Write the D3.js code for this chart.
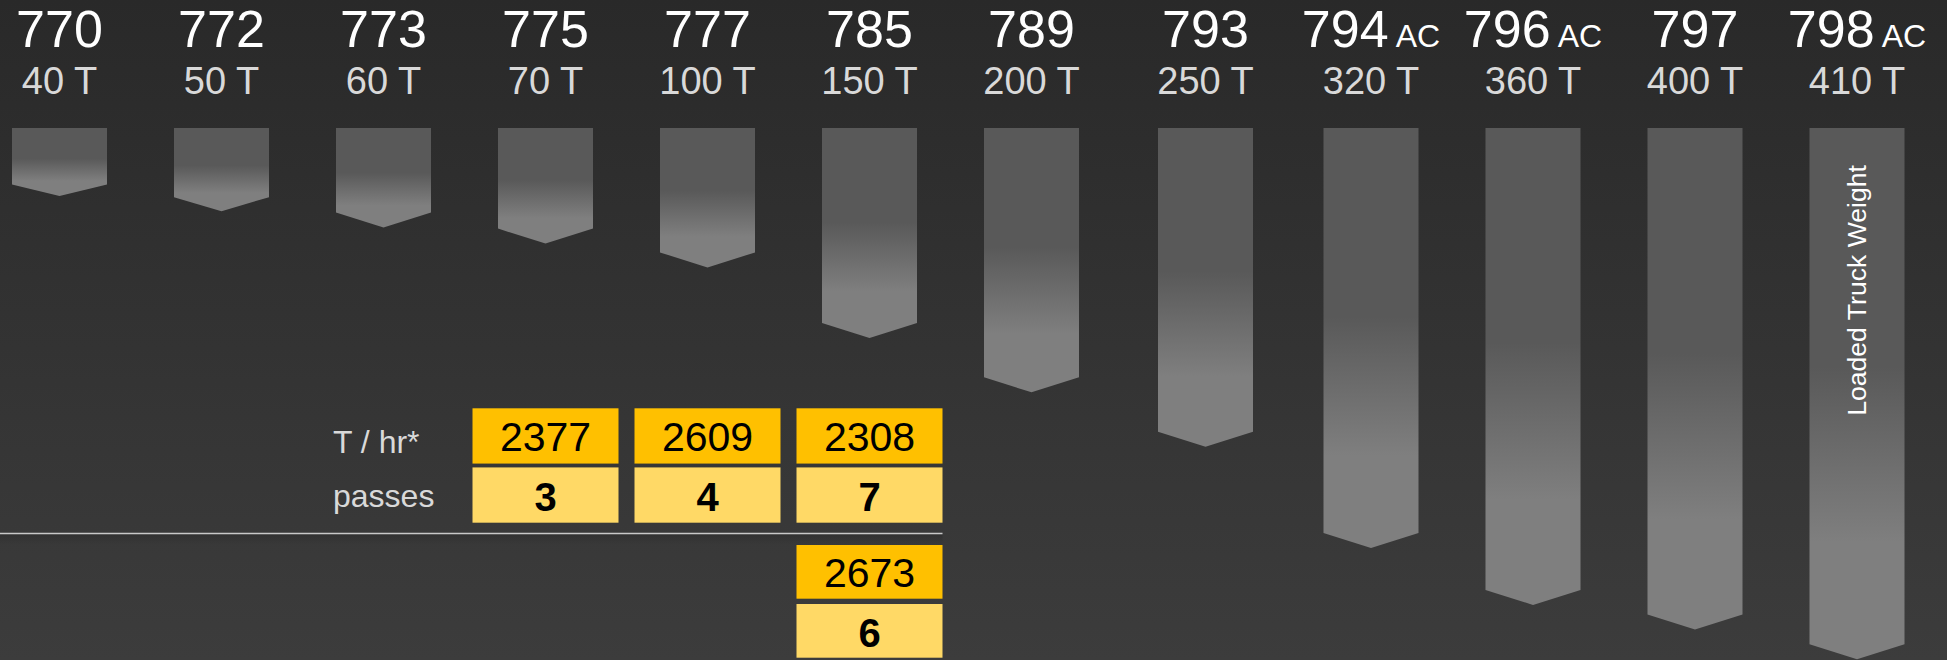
<!DOCTYPE html>
<meta charset="utf-8">

<style type="text/css">
  body {
    margin: 0;
    background: #2a2a2a;
    overflow: hidden;
  }

  svg {
    display: block;
    font-family: "Liberation Sans", Arial, sans-serif;
  }

  .model {
    fill: #fff;
    font-size: 52px;
  }

  .model tspan {
    font-size: 32px;
  }

  .payload {
    fill: #d9d9d9;
    font-size: 38px;
  }

  .rowlabel {
    fill: #d9d9d9;
    font-size: 32px;
  }

  .tph {
    fill: #000;
    font-size: 41px;
  }

  .passes {
    fill: #000;
    font-size: 40px;
    font-weight: bold;
  }
</style>

<body>
  <script src="https://d3js.org/d3.v7.min.js"></script>

  <script>
    // trucks
    var models = ["770", "772", "773", "775", "777", "785", "789", "793", "794", "796", "797", "798"];
    var suffix = ["", "", "", "", "", "", "", "", "AC", "AC", "", "AC"];
    var payload = [40, 50, 60, 70, 100, 150, 200, 250, 320, 360, 400, 410];
    var loadedWeight = [80, 98, 117, 136, 164, 247, 311, 375, 494, 561, 590, 625];

    // loading table (upper block and lower block)
    var rowLabels = ["T / hr*", "passes"];
    var upperTrucks = ["775", "777", "785"];
    var upperTph = [2377, 2609, 2308];
    var upperPasses = [3, 4, 7];
    var lowerTrucks = ["785"];
    var lowerTph = [2673];
    var lowerPasses = [6];

    var w = 1947;
    var h = 660;

    var svg = d3.select('body')
      .append('svg')
      .attr('width', w)
      .attr('height', h);

    var defs = svg.append('defs');

    var bg = defs.append('linearGradient')
      .attr('id', 'bg')
      .attr('x1', 0).attr('y1', 0).attr('x2', 0).attr('y2', 1);
    bg.append('stop').attr('offset', 0).attr('stop-color', '#292929');
    bg.append('stop').attr('offset', 1).attr('stop-color', '#3c3c3c');

    var barGrad = defs.append('linearGradient')
      .attr('id', 'barGrad')
      .attr('x1', 0).attr('y1', 0).attr('x2', 0).attr('y2', 1);
    [[0, '#595959'], [0.45, '#595959'], [0.78, '#7f7f7f'], [1, '#7f7f7f']].forEach(function(s) {
      barGrad.append('stop').attr('offset', s[0]).attr('stop-color', s[1]);
    });

    var shade = defs.append('linearGradient')
      .attr('id', 'shade')
      .attr('x1', 0).attr('y1', 0).attr('x2', 0).attr('y2', 1);
    shade.append('stop').attr('offset', 0).attr('stop-color', '#000').attr('stop-opacity', 0.14);
    shade.append('stop').attr('offset', 1).attr('stop-color', '#000').attr('stop-opacity', 0);

    svg.append('rect')
      .attr('width', w)
      .attr('height', h)
      .attr('fill', 'url(#bg)');

    var x = d3.scaleBand()
      .domain(models)
      .range([-21.5, 1922.5])
      .paddingInner(67 / 162)
      .paddingOuter(67 / 324);
    var bw = x.bandwidth();

    // the AC trucks have wider labels, so the right group sits a bit further over
    function bx(m) {
      var i = models.indexOf(m);
      return x(m) + (i > 7 ? 15.5 : i == 7 ? 12 : 0);
    }

    var y = d3.scaleLinear()
      .domain([0, 625])
      .range([128, 659.3]);

    var trucks = models.map(function(m, i) {
      return { model: m, suffix: suffix[i], payload: payload[i], weight: loadedWeight[i] };
    });

    // bars with an arrow tip
    svg.selectAll('path.bar')
      .data(trucks)
      .enter()
      .append('path')
      .attr('class', 'bar')
      .attr('fill', 'url(#barGrad)')
      .attr('d', function(d) {
        var l = bx(d.model), r = l + bw, c = l + bw / 2;
        var top = y(0), end = y(d.weight);
        var tip = Math.min(15, (end - top) * 0.17);
        return 'M' + l + ',' + top + 'H' + r + 'V' + (end - tip) +
          'L' + c + ',' + end + 'L' + l + ',' + (end - tip) + 'Z';
      });

    // model names
    var names = svg.selectAll('text.model')
      .data(trucks)
      .enter()
      .append('text')
      .attr('class', 'model')
      .attr('text-anchor', 'middle')
      .attr('x', function(d) { return bx(d.model) + bw / 2; })
      .attr('y', 46.7)
      .text(function(d) { return d.model; });

    names.filter(function(d) { return d.suffix; })
      .append('tspan')
      .text(function(d) { return ' ' + d.suffix; });

    svg.selectAll('text.payload')
      .data(trucks)
      .enter()
      .append('text')
      .attr('class', 'payload')
      .attr('text-anchor', 'middle')
      .attr('x', function(d) { return bx(d.model) + bw / 2; })
      .attr('y', 94.3)
      .text(function(d) { return d.payload + ' T'; });

    var last = models[models.length - 1];
    svg.append('text')
      .attr('transform', 'translate(' + (bx(last) + bw / 2 + 9) + ',' + (y(0) + 37) + ') rotate(-90)')
      .attr('text-anchor', 'end')
      .attr('fill', '#fff')
      .attr('font-size', 26.6)
      .text('Loaded Truck Weight');

    // table
    var boxW = 146;

    function block(trucksList, tph, passes, rowY) {
      var rows = trucksList.map(function(m, i) {
        return { model: m, tph: tph[i], passes: passes[i] };
      });
      var g = svg.append('g');
      var cell = g.selectAll('g')
        .data(rows)
        .enter()
        .append('g')
        .attr('transform', function(d) {
          return 'translate(' + (bx(d.model) + bw / 2 - boxW / 2) + ',0)';
        });
      cell.append('rect')
        .attr('y', rowY('tph'))
        .attr('width', boxW)
        .attr('height', rowY.bandwidth())
        .attr('fill', '#ffc000');
      cell.append('rect')
        .attr('y', rowY('passes'))
        .attr('width', boxW)
        .attr('height', rowY.bandwidth())
        .attr('fill', '#ffd966');
      cell.append('text')
        .attr('class', 'tph')
        .attr('text-anchor', 'middle')
        .attr('x', boxW / 2)
        .attr('y', rowY('tph') + rowY.bandwidth() / 2 + 15)
        .text(function(d) { return d.tph; });
      cell.append('text')
        .attr('class', 'passes')
        .attr('text-anchor', 'middle')
        .attr('x', boxW / 2)
        .attr('y', rowY('passes') + rowY.bandwidth() / 2 + 16)
        .text(function(d) { return d.passes; });
    }

    var upperY = d3.scaleBand().domain(['tph', 'passes']).range([408.3, 522.7]).paddingInner(0.065);
    var lowerY = d3.scaleBand().domain(['tph', 'passes']).range([545, 657.7]).paddingInner(0.09);

    block(upperTrucks, upperTph, upperPasses, upperY);
    block(lowerTrucks, lowerTph, lowerPasses, lowerY);

    svg.selectAll('text.rowlabel')
      .data(rowLabels)
      .enter()
      .append('text')
      .attr('class', 'rowlabel')
      .attr('x', 333)
      .attr('y', function(d, i) { return [453.3, 506.7][i]; })
      .text(function(d) { return d; });

    // separator between the two loaders
    var lineEnd = bx(upperTrucks[upperTrucks.length - 1]) + bw / 2 + boxW / 2;
    svg.append('rect')
      .attr('x', 0)
      .attr('y', 534.5)
      .attr('width', lineEnd)
      .attr('height', 10)
      .attr('fill', 'url(#shade)');
    svg.append('line')
      .attr('x1', 0)
      .attr('x2', lineEnd)
      .attr('y1', 533.5)
      .attr('y2', 533.5)
      .attr('stroke', '#c8c8c8')
      .attr('stroke-width', 1.6);
  </script>
</body>
